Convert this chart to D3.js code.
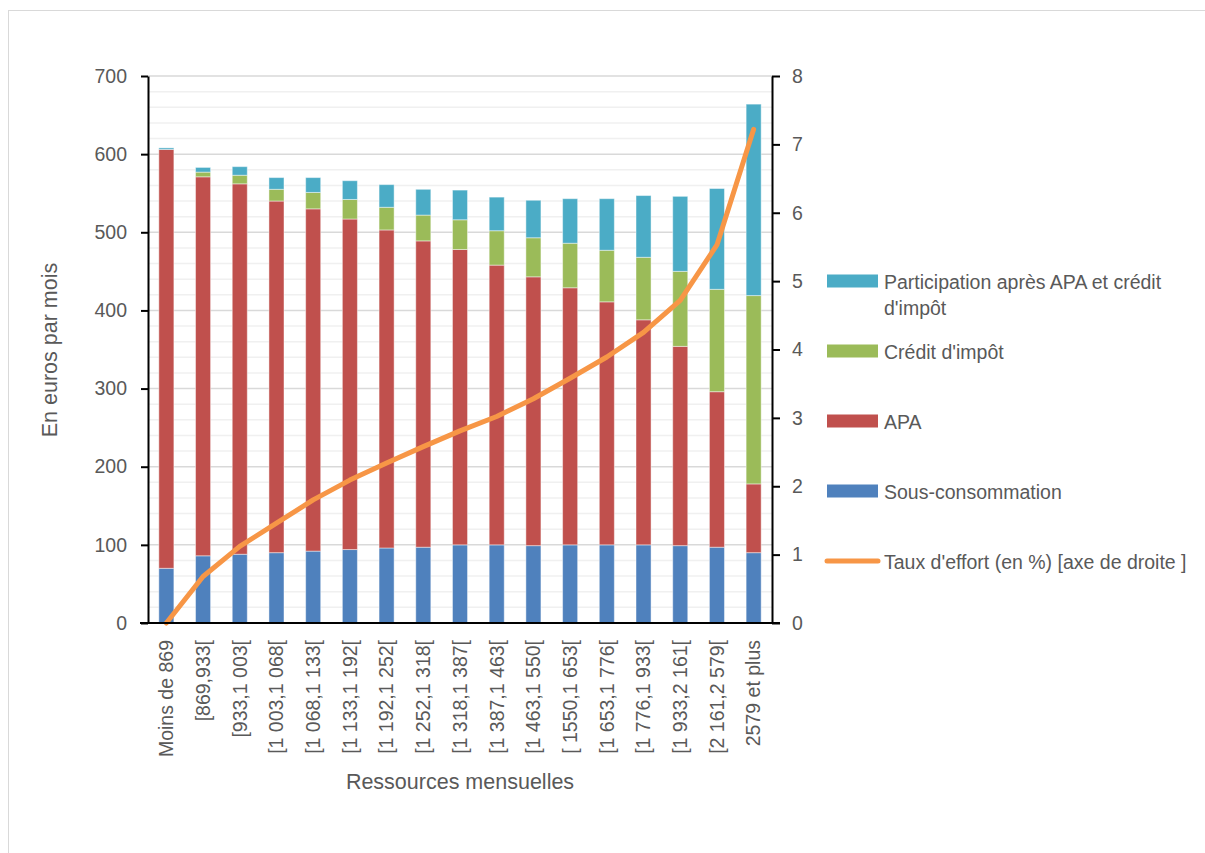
<!DOCTYPE html>
<html><head><meta charset="utf-8">
<script src="https://cdn.jsdelivr.net/npm/d3@7"></script>
<style>
body{margin:0;background:#fff;}
svg{display:block;font-family:"Liberation Sans",Arial,sans-serif;}
</style></head><body>
<svg id="c" width="1205" height="853"></svg>
<script>
const categories = ["Moins de 869","[869,933[","[933,1 003[","[1 003,1 068[","[1 068,1 133[","[1 133,1 192[","[1 192,1 252[","[1 252,1 318[","[1 318,1 387[","[1 387,1 463[","[1 463,1 550[","[ 1550,1 653[","[1 653,1 776[","[1 776,1 933[","[1 933,2 161[","[2 161,2 579[","2579 et plus"];
const sousConsommation = [70,86,88,90,92,94,96,97,100,100,99,100,100,100,99,97,90];
const apa = [536,485,474,450,438,423,407,392,378,358,344,329,311,288,255,199,88];
const creditImpot = [0,6,11,15,21,25,29,33,38,44,50,57,66,80,96,131,241];
const participation = [2,6,11,15,19,24,29,33,38,43,48,57,66,79,96,129,245];
const tauxEffort = [0.0,0.68,1.12,1.46,1.80,2.09,2.34,2.58,2.81,3.02,3.28,3.58,3.89,4.25,4.72,5.53,7.22];
const leftTicks = [0,100,200,300,400,500,600,700];
const rightTicks = [0,1,2,3,4,5,6,7,8];

const seriesKeys = ["sous","apa","credit","part"];
const seriesColors = {sous:"#4F81BD",apa:"#C0504D",credit:"#9BBB59",part:"#4BACC6"};
const tableData = categories.map((c,i)=>({cat:c,sous:sousConsommation[i],apa:apa[i],credit:creditImpot[i],part:participation[i]}));

const svg = d3.select("#c");
const L=148,R=772,T=76,B=623;
const txt="#595959";
const fs=19.5;

svg.append("rect").attr("x",8.5).attr("y",10.5).attr("width",1200).attr("height",850)
  .attr("fill","#fff").attr("stroke","#d9d9d9").attr("stroke-width",1);

const x = d3.scaleBand().domain(categories).range([L,R]).paddingInner(0.59).paddingOuter(0.295);
const y = d3.scaleLinear().domain([0,700]).range([B,T]);
const y2 = d3.scaleLinear().domain([0,8]).range([B,T]);

// gridlines
const minor = d3.range(20,700,20).filter(v=>v%100!==0);
svg.append("g").selectAll("line").data(minor).join("line")
  .attr("x1",L).attr("x2",R).attr("y1",d=>y(d)).attr("y2",d=>y(d))
  .attr("stroke","#f0f0f0").attr("stroke-width",1.5);
svg.append("g").selectAll("line").data(leftTicks.filter(v=>v>0)).join("line")
  .attr("x1",L).attr("x2",R).attr("y1",d=>y(d)).attr("y2",d=>y(d))
  .attr("stroke","#d9d9d9").attr("stroke-width",1.5);

// stacked bars
const stack = d3.stack().keys(seriesKeys)(tableData);
svg.append("g").selectAll("g").data(stack).join("g")
  .attr("fill",d=>seriesColors[d.key])
  .selectAll("rect").data(d=>d).join("rect")
  .attr("x",d=>x(d.data.cat)).attr("width",x.bandwidth())
  .attr("y",d=>y(d[1])).attr("height",d=>Math.max(0,y(d[0])-y(d[1])))
  .attr("stroke","rgba(255,255,255,0.45)").attr("stroke-width",1);

// line
const line = d3.line().x((d,i)=>x(categories[i])+x.bandwidth()/2).y(d=>y2(d));
svg.append("path").datum(tauxEffort).attr("d",line).attr("fill","none")
  .attr("stroke","#F79646").attr("stroke-width",5).attr("stroke-linecap","round").attr("stroke-linejoin","round");

// axes
const axL = d3.axisLeft(y).tickValues(leftTicks).tickSize(7).tickPadding(14).tickSizeOuter(0);
const gL = svg.append("g").attr("transform",`translate(${L},0)`).call(axL);
const axR = d3.axisRight(y2).tickValues(rightTicks).tickSize(8).tickPadding(12).tickSizeOuter(0);
const gR = svg.append("g").attr("transform",`translate(${R},0)`).call(axR);
const axB = d3.axisBottom(x).tickSize(0).tickPadding(0);
const gB = svg.append("g").attr("transform",`translate(0,${B})`).call(axB);
[gL,gR,gB].forEach(g=>{
  g.select(".domain").attr("stroke","#000").attr("stroke-width",2);
  g.selectAll(".tick line").attr("stroke","#000").attr("stroke-width",2);
  g.selectAll("text").attr("fill",txt).attr("font-size",fs).attr("font-family",null);
});
gB.select(".domain").attr("d",`M${L-8},0H${R+8}`);
gB.selectAll(".tick text").attr("transform","rotate(-90)").attr("text-anchor","end")
  .attr("x",-17).attr("y",0).attr("dy","0.35em");

// axis titles
svg.append("text").attr("transform",`translate(57,350) rotate(-90)`).attr("text-anchor","middle")
  .attr("fill",txt).attr("font-size",21.5).text("En euros par mois");
svg.append("text").attr("x",460).attr("y",789).attr("text-anchor","middle")
  .attr("fill",txt).attr("font-size",21.5).text("Ressources mensuelles");

// legend
const legendItems = [
  {lines:["Participation après APA et crédit","d'impôt"],color:seriesColors.part,cy:281,type:"rect"},
  {lines:["Crédit d'impôt"],color:seriesColors.credit,cy:351,type:"rect"},
  {lines:["APA"],color:seriesColors.apa,cy:421,type:"rect"},
  {lines:["Sous-consommation"],color:seriesColors.sous,cy:491,type:"rect"},
  {lines:["Taux d'effort (en %) [axe de droite ]"],color:"#F79646",cy:561,type:"line"}
];
const lg = svg.append("g");
legendItems.forEach(it=>{
  if(it.type==="rect"){
    lg.append("rect").attr("x",827).attr("y",it.cy-6.5).attr("width",51).attr("height",13).attr("fill",it.color);
  } else {
    lg.append("line").attr("x1",827).attr("x2",878).attr("y1",it.cy).attr("y2",it.cy)
      .attr("stroke",it.color).attr("stroke-width",5).attr("stroke-linecap","round");
  }
  it.lines.forEach((t,j)=>{
    lg.append("text").attr("x",884).attr("y",it.cy+7.5+j*26).attr("fill",txt).attr("font-size",fs).text(t);
  });
});
</script></body></html>
